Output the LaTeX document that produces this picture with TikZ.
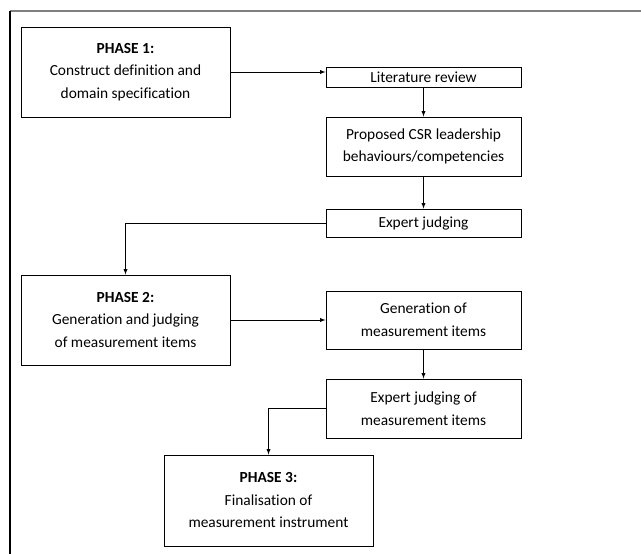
\documentclass[tikz,border=0pt]{standalone}
\usepackage{fontspec}
\setmainfont{Carlito}[Ligatures=NoCommon]
\usetikzlibrary{arrows,positioning}

\begin{document}
\begin{tikzpicture}[x=1pt,y=-1pt,
  phasebox/.style={draw,line width=0.9pt,minimum width=209pt,minimum height=90pt,inner sep=0pt,align=center,font=\fontsize{15.4}{22.5}\selectfont},
  stagebox/.style={draw,line width=0.9pt,minimum width=195pt,inner sep=0pt,align=center,font=\fontsize{15.4}{22.5}\selectfont},
  link/.style={line width=0.9pt,-latex}]
\useasboundingbox (0,0) rectangle (641,554);
\draw[gray,line width=1.2pt] (10,11)--(641,11);
\draw[line width=1.2pt] (10,11)--(10,554);
% phase 1
\node[phasebox] (ph1) at (125.5,72) {\textbf{PHASE 1:}\\Construct definition and\\domain specification};
\node[stagebox,minimum height=20pt] (lit) at (423.5,77) {Literature review};
\node[stagebox,minimum height=59pt] (csr) at (423.5,146.5) {Proposed CSR leadership\\behaviours/competencies};
\node[stagebox,minimum height=28pt] (exj) at (423.5,223) {Expert judging};
% phase 2
\node[phasebox] (ph2) at (125.5,320) {\textbf{PHASE 2:}\\Generation and judging\\of measurement items};
\node[stagebox,minimum height=58pt] (gen) at (423.5,320) {Generation of\\measurement items};
\node[stagebox,minimum height=59pt] (exi) at (423.5,408.5) {Expert judging of\\measurement items};
% phase 3
\node[phasebox,minimum height=91pt] (ph3) at (268.5,500.5) {\textbf{PHASE 3:}\\Finalisation of\\measurement instrument};
\draw[link] (ph1.east) -- (ph1.east -| lit.west);
\draw[link] (lit) -- (csr);
\draw[link] (csr) -- (exj);
\draw[link] (exj.west) -| (ph2.north);
\draw[link] (ph2) -- (gen);
\draw[link] (gen) -- (exi);
\draw[link] (exi.west) -| (ph3.north);
\end{tikzpicture}
\end{document}
